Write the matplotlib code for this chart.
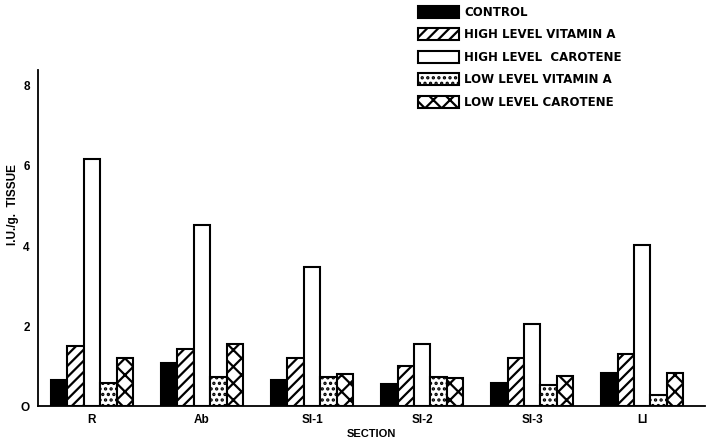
import matplotlib
matplotlib.use("Agg")
import matplotlib.pyplot as plt
import numpy as np

sections = ["R", "Ab", "SI-1", "SI-2", "SI-3", "LI"]
series_names = ["CONTROL", "HIGH LEVEL VITAMIN A", "HIGH LEVEL  CAROTENE",
                "LOW LEVEL VITAMIN A", "LOW LEVEL CAROTENE"]
control = [0.65, 1.07, 0.64, 0.55, 0.58, 0.82]
high_vit_a = [1.51, 1.42, 1.19, 1.01, 1.19, 1.30]
high_carotene = [6.17, 4.52, 3.48, 1.54, 2.05, 4.02]
low_vit_a = [0.57, 0.72, 0.73, 0.72, 0.52, 0.27]
low_carotene = [1.19, 1.55, 0.81, 0.71, 0.76, 0.82]
y_ticks = [0, 2, 4, 6, 8]
y_tick_labels = ["O", "2", "4", "6", "8"]

series = [control, high_vit_a, high_carotene, low_vit_a, low_carotene]
faces = ["black", "white", "white", "white", "white"]
hatches = [None, "///", None, "...", "xx"]

plt.rcParams["font.family"] = ["Liberation Sans", "DejaVu Sans"]
plt.rcParams["font.weight"] = "bold"
plt.rcParams["hatch.linewidth"] = 1.6

fig = plt.figure(figsize=(7.14, 4.4), dpi=100)
ax = fig.add_axes([38 / 714, 34 / 440, (705 - 38) / 714, (406 - 70) / 440])

x = np.arange(len(sections))
w = 0.149
handles = []
for i, (vals, fc, h) in enumerate(zip(series, faces, hatches)):
    b = ax.bar(x + (i - 2) * w, vals, width=w, color=fc, edgecolor="black",
               hatch=h, linewidth=1.5, label=series_names[i])
    handles.append(b)

ax.set_xlim(-0.49, 5.57)
ax.set_ylim(0, 8.4)
ax.set_xticks(x)
ax.set_xticklabels(sections, fontsize=8.5, fontweight="bold")
ax.set_yticks(y_ticks)
ax.set_yticklabels(y_tick_labels, fontsize=8.5, fontweight="bold")
ax.tick_params(length=0, pad=6)
for s in ["top", "right"]:
    ax.spines[s].set_visible(False)
for s in ["left", "bottom"]:
    ax.spines[s].set_linewidth(1.3)

ax.set_xlabel("SECTION", fontsize=8, fontweight="bold", labelpad=2)
ax.set_ylabel("I.U./g.  TISSUE", fontsize=8.5, fontweight="bold")
ax.yaxis.set_label_coords(-0.029, 0.60)

leg = fig.legend(handles=handles, loc="upper left", bbox_to_anchor=(412 / 714, 1.0),
                 frameon=False, prop={"family": "DejaVu Sans", "size": 8.5, "weight": "bold"},
                 handlelength=3.5, handleheight=1.2,
                 labelspacing=0.8, handletextpad=0.4, borderaxespad=0.1)

fig.savefig("out.png", dpi=100)
